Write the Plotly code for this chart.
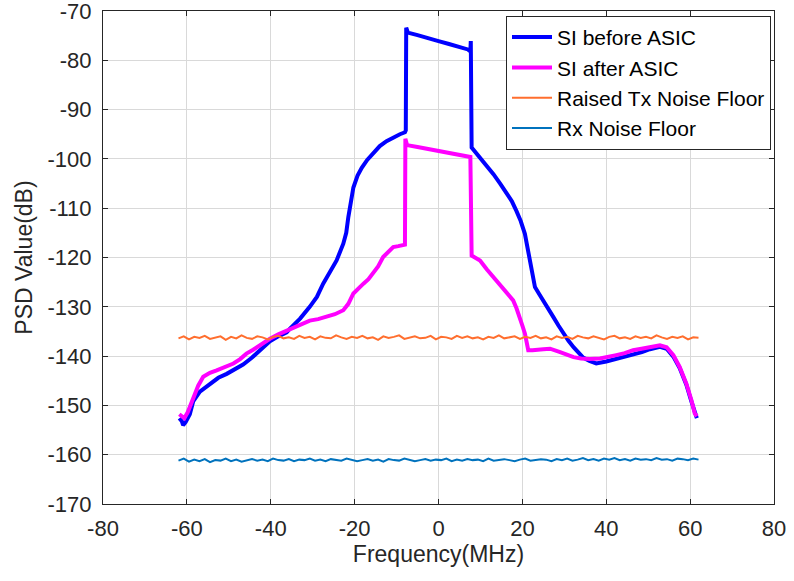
"""
PSD of self-interference before/after the ASIC, with noise floors
"""

import numpy as np
import plotly.graph_objects as go

# SI before ASIC (blue)
si_before_freq = [
    -61.8, -61.2, -60.9, -60.3, -59.3, -58.5, -56.9, -54.5, -52.5, -50.5,
    -48.5, -46.6, -44.6, -42.6, -40.2, -38.2, -36.2, -35.4, -33.0, -30.7,
    -29.0, -27.5, -25.8, -24.3, -22.7, -22.0, -21.5, -20.9, -20.3, -19.3,
    -18.3, -17.0, -15.6, -14.0, -12.4, -10.8, -9.2, -8.0, -7.8,
    -7.7, -7.3, -5.0, -2.5, 0.0, 2.5, 5.0, 7.0, 7.6,
    7.7, 7.9, 9.9, 11.5, 13.1, 14.7, 16.3, 17.5, 18.6, 19.6,
    20.6, 21.2, 21.8, 22.4, 23.0, 24.0, 25.0, 26.2, 27.4, 28.6,
    29.8, 31.0, 32.2, 33.4, 34.5, 36.0, 37.6, 40.0, 42.4, 44.5,
    46.4, 48.5, 50.4, 52.8, 54.4, 56.0, 57.5, 59.1, 60.3, 61.1, 61.6,
]
si_before_psd = [
    -152.6, -153.2, -154.0, -153.4, -151.8, -149.2, -147.2, -145.6, -144.4, -143.6,
    -142.6, -141.7, -140.4, -138.9, -137.0, -136.0, -135.2, -134.4, -132.4, -130.0,
    -128.0, -125.3, -122.9, -120.6, -117.2, -115.0, -111.8, -108.8, -105.8, -103.4,
    -101.8, -100.2, -98.8, -97.4, -96.4, -95.6, -95.0, -94.6, -94.2,
    -73.4, -74.4, -74.9, -75.6, -76.1, -76.7, -77.3, -77.8, -78.2,
    -76.1, -97.7, -99.7, -101.2, -103.1, -105.0, -107.1, -108.6, -110.6, -112.6,
    -115.2, -117.8, -120.6, -123.4, -126.0, -127.4, -128.7, -130.4, -132.1, -133.8,
    -135.4, -136.9, -138.2, -139.3, -140.3, -141.0, -141.5, -141.1, -140.6, -140.2,
    -139.7, -139.2, -138.6, -138.1, -138.5, -140.1, -142.4, -145.8, -149.2, -151.7, -152.6,
]

# SI after ASIC (magenta)
si_after_freq = [
    -61.8, -61.2, -60.6, -59.8, -58.5, -57.3, -56.1, -54.5, -52.9, -50.9,
    -48.9, -47.3, -45.8, -44.2, -42.6, -40.2, -38.2, -36.2, -33.4, -30.7,
    -28.7, -26.7, -24.7, -22.7, -21.5, -20.3, -19.1, -17.9, -16.7, -15.6,
    -14.4, -13.2, -12.0, -10.8, -9.6, -8.4, -8.0,
    -7.9, -7.5, -5.0, -2.5, 0.0, 2.5, 5.0, 7.0, 7.6,
    7.9, 9.9, 11.5, 13.1, 14.3, 15.4, 16.6, 17.8, 18.6, 19.4,
    20.0, 20.6, 21.0, 21.4, 22.4, 23.4, 25.0, 26.6, 28.0, 29.0,
    30.6, 32.2, 34.0, 36.0, 38.5, 40.5, 42.4, 44.4, 46.4, 48.4,
    50.4, 52.8, 54.4, 56.0, 57.5, 59.1, 60.3, 61.1, 61.6,
]
si_after_psd = [
    -151.8, -152.1, -152.6, -151.4, -148.3, -146.0, -144.2, -143.4, -142.9, -142.3,
    -141.5, -140.6, -139.5, -138.7, -137.8, -136.5, -135.6, -134.8, -133.8, -132.8,
    -132.5, -132.1, -131.5, -130.7, -129.4, -127.3, -126.2, -125.3, -124.4, -123.3,
    -121.8, -119.9, -118.8, -117.9, -117.7, -117.6, -117.4,
    -95.9, -97.2, -97.6, -98.0, -98.4, -98.8, -99.2, -99.5, -99.6,
    -119.6, -120.6, -122.4, -124.0, -125.0, -126.0, -127.2, -128.7, -130.3, -132.1,
    -133.8, -135.4, -137.2, -138.8, -138.8, -138.8, -138.6, -138.5, -138.8, -139.2,
    -139.7, -140.2, -140.5, -140.6, -140.5, -140.2, -139.8, -139.4, -138.8, -138.5,
    -138.2, -137.8, -138.2, -139.8, -142.2, -145.6, -148.9, -151.6, -152.2,
]

# Raised Tx noise floor (orange)
tx_floor_psd = [
    -136.4, -136.0, -136.6, -136.1, -136.3, -135.9, -136.5, -136.2, -136.0, -136.7,
    -136.1, -136.4, -135.8, -136.3, -136.5, -136.0, -136.2, -136.6, -136.1, -135.9,
    -136.4, -136.2, -136.5, -135.9, -136.3, -136.1, -136.6, -136.0, -136.3, -136.4,
    -135.8, -136.2, -136.5, -136.1, -136.3, -135.9, -136.4, -136.2, -136.7, -136.0,
    -136.3, -136.1, -135.8, -136.5, -136.2, -136.0, -136.4, -136.3, -135.9, -136.6,
    -136.1, -136.2, -136.5, -135.9, -136.3, -136.0, -136.4, -136.2, -136.6, -136.1,
    -136.3, -135.8, -136.4, -136.2, -136.0, -136.5, -136.1, -136.3, -135.9, -136.4,
    -136.2, -136.6, -136.0, -136.3, -136.1, -136.5, -135.9, -136.2, -136.4, -136.0,
    -136.3, -136.6, -136.1, -135.9, -136.4, -136.2, -136.5, -136.0, -136.3, -136.1,
    -136.4, -135.8, -136.2, -136.5, -136.1, -136.3, -136.0, -136.6, -136.2, -136.3,
]

# Rx noise floor
rx_floor_psd = [
    -161.2, -160.8, -161.4, -161.0, -161.3, -160.9, -161.5, -161.1, -161.2, -160.8,
    -161.3, -161.0, -161.4, -161.1, -160.9, -161.2, -161.0, -161.3, -160.8, -161.1,
    -161.2, -160.9, -161.3, -161.0, -161.1, -160.8, -161.2, -161.0, -161.3, -160.9,
    -161.1, -161.2, -160.8, -161.0, -161.3, -161.1, -160.9, -161.2, -161.0, -161.4,
    -160.9, -161.1, -161.2, -160.8, -161.0, -161.3, -161.1, -160.9, -161.2, -161.0,
    -161.1, -160.8, -161.3, -161.0, -161.2, -160.9, -161.1, -161.0, -161.3, -160.8,
    -161.2, -161.0, -160.9, -161.1, -161.3, -161.0, -160.8, -161.2, -161.1, -160.9,
    -161.0, -161.3, -160.9, -161.1, -160.8, -161.2, -161.0, -160.7, -161.1, -160.9,
    -161.2, -160.8, -161.0, -160.7, -161.1, -160.9, -161.2, -160.8, -161.0, -160.9,
    -161.1, -160.7, -161.0, -160.9, -161.2, -160.8, -160.9, -161.1, -160.8, -161.0,
]

# the two floors are sampled on the same band, -62..62 MHz
floor_freq = np.linspace(-62, 62, len(tx_floor_psd))

x_ticks = [-80, -60, -40, -20, 0, 20, 40, 60, 80]
y_ticks = [-170, -160, -150, -140, -130, -120, -110, -100, -90, -80, -70]

FONT = "Liberation Sans, Arial, Helvetica, sans-serif"
INK = "#262626"


def crear_grafico_psd() -> go.Figure:
    """
    Builds the PSD figure in a MATLAB-like style
    """
    fig = go.Figure()

    fig.add_trace(go.Scatter(
        x=si_before_freq, y=si_before_psd, mode="lines",
        name="SI before ASIC", line=dict(color="#0000FF", width=4),
    ))
    fig.add_trace(go.Scatter(
        x=si_after_freq, y=si_after_psd, mode="lines",
        name="SI after ASIC", line=dict(color="#FF00FF", width=4),
    ))
    fig.add_trace(go.Scatter(
        x=floor_freq, y=tx_floor_psd, mode="lines",
        name="Raised Tx Noise Floor", line=dict(color="#FF6E2E", width=2),
    ))
    fig.add_trace(go.Scatter(
        x=floor_freq, y=rx_floor_psd, mode="lines",
        name="Rx Noise Floor", line=dict(color="#0072BD", width=2),
    ))

    axis_style = dict(
        showline=True, linecolor=INK, linewidth=1, mirror="ticks",
        ticks="inside", ticklen=5, tickcolor=INK,
        showgrid=True, gridcolor="#d9d9d9", gridwidth=1,
        zeroline=False, automargin=False, ticklabeloverflow="allow",
        tickfont=dict(family=FONT, size=22, color=INK),
    )

    fig.update_layout(
        width=794, height=581,
        margin=dict(l=103, r=20, t=11, b=77),
        paper_bgcolor="white", plot_bgcolor="white",
        font=dict(family=FONT, color=INK),
        xaxis=dict(
            range=[-80, 80], tickvals=x_ticks,
            ticktext=[str(v) for v in x_ticks], ticklabelstandoff=5,
            title=dict(text="Frequency(MHz)", font=dict(family=FONT, size=23, color=INK), standoff=4),
            **axis_style,
        ),
        yaxis=dict(
            range=[-170, -70], tickvals=y_ticks,
            ticktext=[str(v) for v in y_ticks], ticklabelstandoff=6,
            title=dict(text="PSD Value(dB)", font=dict(family=FONT, size=23, color=INK), standoff=8),
            **axis_style,
        ),
        legend=dict(
            x=0.6006, y=0.99, xanchor="left", yanchor="top",
            bgcolor="white", bordercolor=INK, borderwidth=1,
            font=dict(family=FONT, size=21, color="black"),
            tracegroupgap=0, itemwidth=40,
            entrywidth=240, entrywidthmode="pixels",
        ),
        showlegend=True,
    )
    return fig


fig = crear_grafico_psd()
# the page body has a default 8px margin; drop it so the figure sits at 0,0
fig.write_html(
    "out.html",
    config={"displayModeBar": False},
    post_script="document.body.style.margin='0';",
)
